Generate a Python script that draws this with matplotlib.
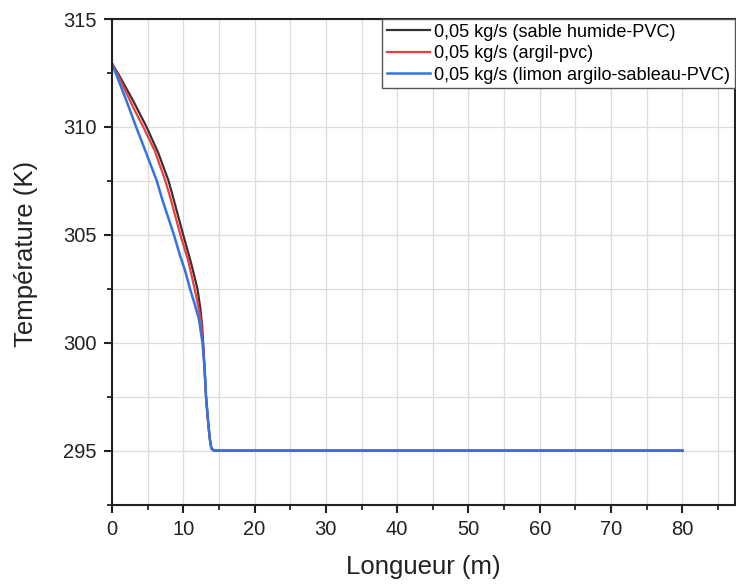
import matplotlib
matplotlib.use('Agg')
import matplotlib.pyplot as plt
from matplotlib.ticker import MultipleLocator

plt.rcParams['font.family'] = ['Liberation Sans', 'DejaVu Sans']

# valeurs
x_sable = [0, 1, 2, 3, 4.86, 6.5, 7.95, 8.7, 10.0, 11.1, 12.0, 12.4, 12.65, 12.8, 13.0,
           13.2, 13.5, 13.75, 13.95, 14.3, 20, 80]
T_sable = [312.95, 312.4, 311.8, 311.2, 310, 308.8, 307.5, 306.6, 305, 303.7, 302.5, 301.6,
           300.8, 300.0, 298.8, 297.5, 296.3, 295.5, 295.1, 295.0, 295.0, 295.0]

x_argil = [0, 1, 2, 3, 4.4, 6, 7.5, 8.3, 9.6, 10.7, 11.6, 12.1, 12.5, 12.75, 13.0,
           13.2, 13.5, 13.75, 13.95, 14.3, 20, 80]
T_argil = [312.95, 312.3, 311.6, 310.9, 310, 308.9, 307.5, 306.6, 305, 303.8, 302.5, 301.7,
           301.0, 300.0, 298.8, 297.5, 296.3, 295.5, 295.1, 295.0, 295.0, 295.0]

x_limon = [0, 1, 2, 3.4, 4.8, 6.3, 7.1, 8.0, 8.7, 9.5, 10.3, 10.95, 11.6, 12.2, 12.7,
           13.0, 13.2, 13.5, 13.75, 13.95, 14.3, 20, 80]
T_limon = [312.95, 312.1, 311.25, 310, 308.8, 307.5, 306.6, 305.7, 305, 304.1, 303.3, 302.5,
           301.8, 301.1, 300, 298.8, 297.5, 296.3, 295.5, 295.1, 295.0, 295.0, 295.0]

labels = ['0,05 kg/s (sable humide-PVC)',
          '0,05 kg/s (argil-pvc)',
          '0,05 kg/s (limon argilo-sableau-PVC)']

fig = plt.figure(figsize=(7.36, 5.86), dpi=100)
ax = fig.add_axes([0.152, 0.139, 0.846, 0.8285])

ax.plot(x_sable, T_sable, color='#333333', lw=1.6, label=labels[0])
ax.plot(x_argil, T_argil, color='#f03c3c', lw=1.6, label=labels[1])
ax.plot(x_limon, T_limon, color='#3274e0', lw=1.8, label=labels[2])

ax.set_xlim(0, 87.3)
ax.set_ylim(292.5, 315)
ax.xaxis.set_major_locator(MultipleLocator(10))
ax.xaxis.set_minor_locator(MultipleLocator(5))
ax.yaxis.set_major_locator(MultipleLocator(5))
ax.yaxis.set_minor_locator(MultipleLocator(2.5))

ax.grid(which='both', color='#dcdcdc', lw=0.9)
ax.set_axisbelow(True)

for s in ax.spines.values():
    s.set_linewidth(1.5)
    s.set_color('#222222')

ax.tick_params(which='major', direction='out', length=6, width=1.5,
               labelsize=14.5, colors='#222222', pad=5)
ax.tick_params(which='minor', direction='out', length=3.5, width=1.3, colors='#222222')

ax.set_xlabel('Longueur (m)', fontsize=18.5, color='#222222', labelpad=12)
ax.set_ylabel('Température (K)', fontsize=18.5, color='#222222')
ax.yaxis.set_label_coords(-0.118, 0.516)

leg = ax.legend(loc='upper right', bbox_to_anchor=(1.0, 1.0), borderaxespad=0,
                fontsize=13.1, fancybox=False, framealpha=1, edgecolor='#555555',
                labelspacing=0.25, handlelength=2.4, handletextpad=0.2, borderpad=0.25)
leg.get_frame().set_linewidth(1.0)

fig.savefig('out.png', dpi=100)
